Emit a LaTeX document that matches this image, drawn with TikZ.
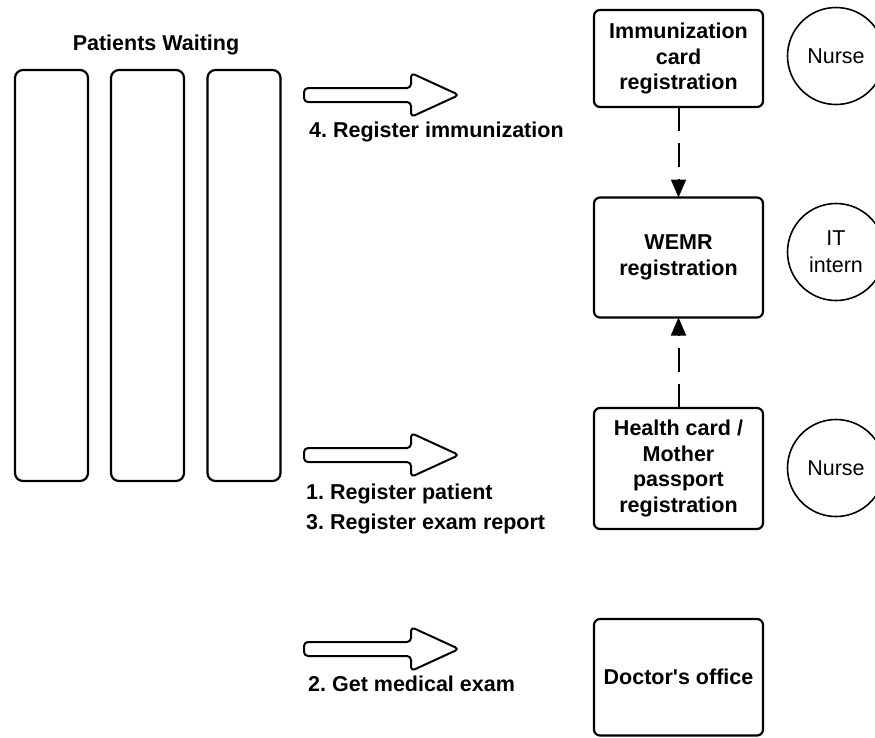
\documentclass[tikz,border=0pt]{standalone}
\usepackage{fontspec}
\setmainfont{Liberation Sans}[Ligatures=TeXOff]
\usetikzlibrary{arrows.meta}
\frenchspacing

\tikzset{
  % registration desks on the right
  stage/.style={draw, line width=2.2pt, rounded corners=6pt, inner sep=0pt, outer sep=0pt,
    minimum width=169pt, align=center,
    font=\bfseries\fontsize{21.5}{25.5}\selectfont},
  % waiting queues on the left
  queue/.style={draw, line width=2.2pt, rounded corners=8pt, inner sep=0pt, outer sep=0pt,
    minimum width=73pt, minimum height=411pt},
  % staff in charge of each desk
  role/.style={draw, circle, line width=1.6pt, minimum size=97pt, inner sep=0pt,
    align=center, font=\fontsize{21.5}{27}\selectfont},
  heading/.style={inner sep=0pt, font=\bfseries\fontsize{21.5}{25.5}\selectfont},
  steplabel/.style={anchor=base west, inner sep=0pt, align=left,
    font=\bfseries\fontsize{21.5}{25.5}\selectfont},
  flow/.style={draw, line width=2pt, dash pattern=on 24pt off 12pt,
    -{Triangle[length=18pt,width=15pt]}},
  fatline/.style={draw, line width=2pt, rounded corners=4pt, line join=round},
  pics/fatarrow/.style={code={
    \draw[fatline] (0,-7) -- (107,-7) -- (107,-22) -- (155,0) -- (107,22)
      -- (107,7) -- (0,7) -- cycle;
  }},
}

\begin{document}
\begin{tikzpicture}[x=1pt, y=-1pt]
  \useasboundingbox (0,0) rectangle (875,737);
  \clip (0,0) rectangle (875,737);

  % patients waiting
  \node[heading] (title) at (156,44.5) {Patients Waiting};
  \node[queue] (q1) at (51.5,275.5) {};
  \node[queue] (q2) at (147.5,275.5) {};
  \node[queue] (q3) at (244,275.5) {};

  % steps
  \pic at (304,95) {fatarrow};
  \node[steplabel] (s4) at (309,137.3) {4. Register immunization};

  \pic at (304,455) {fatarrow};
  \node[steplabel] (s1) at (306,499.3) {1. Register patient};
  \node[steplabel] (s3) at (306,529.3) {3. Register exam report};

  \pic at (304,649) {fatarrow};
  \node[steplabel] (s2) at (308,691.7) {2. Get medical exam};

  % desks
  \node[stage, minimum height=97pt] (imm) at (678.5,58.5)
    {Immunization\\card\\registration};
  \node[stage, minimum height=120pt] (wemr) at (678.5,257.5)
    {WEMR\\registration};
  \node[stage, minimum height=121pt] (health) at (678.5,468.5)
    {Health card /\\Mother\\passport\\registration};
  \node[stage, minimum height=116.5pt] (doc) at (678.5,677.25)
    {Doctor's office};

  % staff
  \node[role] (nurse1) at (836,56) {Nurse};
  \node[role] (intern) at (836,252) {IT\\intern};
  \node[role] (nurse2) at (836,468) {Nurse};

  % data flow into the WEMR
  \draw[flow] (imm.south) -- (wemr.north);
  \draw[flow] (health.north) -- (wemr.south);
\end{tikzpicture}
\end{document}
